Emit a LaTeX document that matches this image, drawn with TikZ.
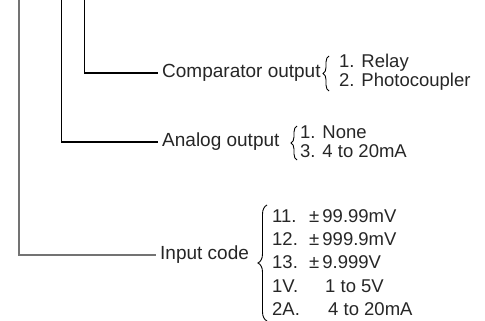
\documentclass[tikz,border=0pt]{standalone}
\usepackage{fontspec}
\setmainfont{Liberation Sans}
\usetikzlibrary{decorations.pathreplacing}
\begin{document}
\begin{tikzpicture}[x=1pt,y=-1pt,
    lbl/.style={anchor=west,inner xsep=4pt,inner ysep=0pt,text=black!85,font=\fontsize{19}{21}\selectfont},
    item/.style={anchor=base west,inner sep=0pt,text=black!85,font=\fontsize{18.5}{21}\selectfont},
    lead/.style={line width=1.1pt},
    curly/.style={decorate,decoration={brace,amplitude=#1},line width=0.9pt},
    curly/.default=6pt]
    \useasboundingbox (0,0) rectangle (485,321);
    \coordinate (topcmp) at (84.5,0);
    \coordinate (topana) at (61.5,0);
    \coordinate (topin) at (19,0);
    \node[lbl] (cmp) at (158,73) {Comparator output};
    \node[lbl] (ana) at (158,142) {Analog output};
    \node[lbl] (inp) at (156,254.5) {Input code};
    \draw[lead] (topcmp) |- (cmp.west);
    \draw[lead] (topana) |- (ana.west);
    \draw[line width=2pt,black!55] (topin) |- (inp.west);
    \draw[curly] (329,91) -- (329,56);
    \node[item] (cmp1) at (339,67) {1. Relay};
    \node[item] (cmp2) at (339,86.5) {2. Photocoupler};
    \draw[curly] (297,160) -- (297,126);
    \node[item] (ana1) at (300,138) {1. None};
    \node[item] (ana3) at (300,157.5) {3. 4 to 20mA};
    \draw[curly=9pt] (267,321) -- (267,205);
    \foreach \n/\yb/\code/\xv/\val in {1/222/11./309/{±\,99.99mV},2/245/12./309/{±\,999.9mV},3/268.5/13./309/{±\,9.999V},4/292/1V./325/{1 to 5V},5/315/2A./328/{4 to 20mA}}{
        \node[item] (code\n) at (272,\yb) {\code};
        \node[item] (val\n) at (\xv,\yb) {\val};
    }
\end{tikzpicture}
\end{document}
